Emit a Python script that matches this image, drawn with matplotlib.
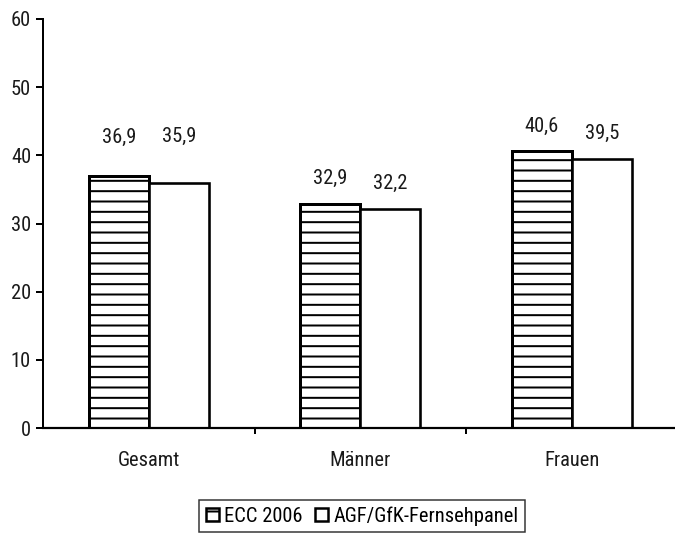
import matplotlib
matplotlib.use("Agg")
import matplotlib.pyplot as plt
from matplotlib.patches import Patch
import numpy as np

# Daten
categories = ["Gesamt", "Männer", "Frauen"]
ecc_2006 = [36.9, 32.9, 40.6]
agf_gfk = [35.9, 32.2, 39.5]
series_names = ["ECC 2006", "AGF/GfK-Fernsehpanel"]
y_ticks = [0, 10, 20, 30, 40, 50, 60]

DPI = 62.5
W, H = 675, 534


def px(v):
    """pixels -> points at the figure dpi"""
    return v * 72.0 / DPI


plt.rcParams["font.family"] = ["Roboto Condensed", "DejaVu Sans"]
plt.rcParams["hatch.linewidth"] = px(2.0)
plt.rcParams["hatch.color"] = "black"

fig = plt.figure(figsize=(W / DPI, H / DPI), dpi=DPI)
ax = fig.add_axes([43 / W, (H - 428) / H, (W - 43) / W, (428 - 19) / H])

x = np.arange(len(categories))
bw = 0.284
b1 = ax.bar(x - bw / 2, ecc_2006, bw, facecolor="white", edgecolor="black",
            hatch="-", linewidth=px(3.0), zorder=3)
b2 = ax.bar(x + bw / 2, agf_gfk, bw, facecolor="white", edgecolor="black",
            linewidth=px(2.6), zorder=3)

# value labels above the bars (Gesamt labels sit a bit higher)
lift = [[39, 47], [25, 25], [25, 25]]
fs = px(20.5)
for i in range(len(categories)):
    for j, (vals, xs) in enumerate(((ecc_2006, x - bw / 2), (agf_gfk, x + bw / 2))):
        ax.annotate(f"{vals[i]:.1f}".replace(".", ","), (xs[i], vals[i]),
                    xytext=(0, px(lift[i][j])), textcoords="offset points",
                    ha="center", va="center", fontsize=fs, color="#1a1a1a")

ax.set_xlim(-0.5, 2.488)
ax.set_ylim(0, 60)
ax.set_yticks(y_ticks)
ax.set_yticklabels([str(t) for t in y_ticks], fontsize=fs, color="#1a1a1a")
ax.tick_params(axis="y", direction="out", length=px(7), width=px(2), pad=px(5))

ax.set_xticks(x)
ax.set_xticklabels(categories, fontsize=fs, color="#1a1a1a")
ax.set_xticks(np.arange(0.5, len(categories) - 0.5, 1.0), minor=True)
ax.tick_params(axis="x", which="major", length=0, pad=px(23))
ax.tick_params(axis="x", which="minor", direction="out", length=px(6), width=px(2))

for s in ("top", "right"):
    ax.spines[s].set_visible(False)
ax.spines["left"].set_linewidth(px(2))
ax.spines["bottom"].set_linewidth(px(2.2))
ax.spines["bottom"].set_zorder(4)

handles = [Patch(facecolor="white", edgecolor="black", hatch="-", linewidth=px(2.5)),
           Patch(facecolor="white", edgecolor="black", linewidth=px(2.5))]
leg = fig.legend(handles, series_names, loc="center", bbox_to_anchor=(362 / W, (H - 516) / H),
                 ncol=2, frameon=True, fancybox=False, fontsize=px(20.5),
                 handlelength=0.65, handleheight=0.65, handletextpad=0.25,
                 columnspacing=0.6, borderpad=0.3, borderaxespad=0)
leg.get_frame().set_edgecolor("black")
leg.get_frame().set_linewidth(px(1.5))

fig.savefig("out.png", dpi=DPI)
